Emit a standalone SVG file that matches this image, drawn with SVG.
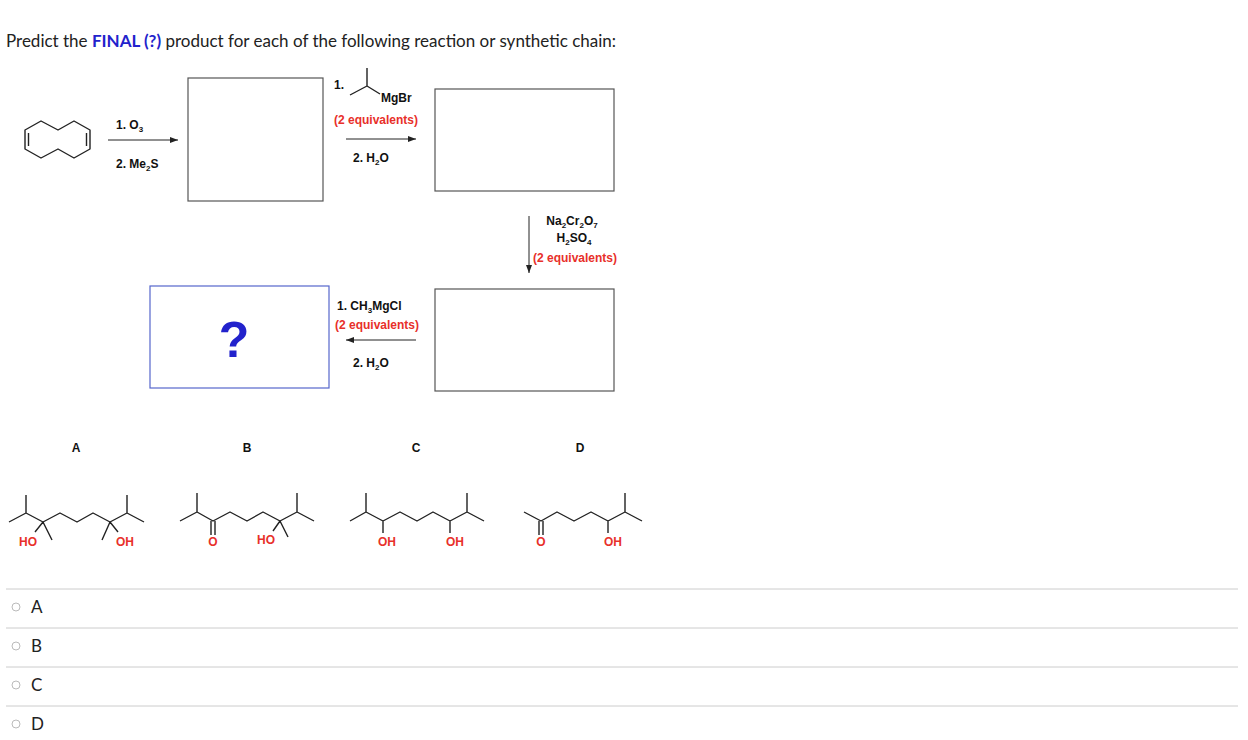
<svg xmlns="http://www.w3.org/2000/svg" width="1248" height="740" viewBox="0 0 1248 740">
<defs><marker id="ah" markerWidth="8" markerHeight="6" refX="8" refY="3" orient="auto" markerUnits="userSpaceOnUse"><path d="M0,0 L8,3 L0,6 z" fill="#222"/></marker></defs>
<style>
.t{font-family:"Liberation Sans",Arial,sans-serif;font-size:12px;font-weight:bold;fill:#111}
.r{fill:#e8302a}
.b{fill:none;stroke:#555;stroke-width:1.2}
.m{fill:none;stroke:#222;stroke-width:1.4;stroke-linejoin:round}
.a{stroke:#222;stroke-width:1;marker-end:url(#ah)}
.h{stroke:#ccc;stroke-width:1}
.o{font-family:Lato,"Liberation Sans",sans-serif;font-size:17px;fill:#222}
</style>
<rect width="1248" height="740" fill="#fff"/>
<text x="6" y="47" class="o">Predict the <tspan fill="#2222cc" font-weight="bold">FINAL (?)</tspan> product for each of the following reaction or synthetic chain:</text>
<g id="start"><path class="m" d="M25,130 L41,121 L58,130 L74,121 L90,130 L90,149 L74,158 L58,149 L41,158 L25,149 Z M28.5,133 L28.5,146 M86.5,133 L86.5,146"/></g>
<g id="box1"><rect class="b" x="188" y="78" width="135" height="123"/></g>
<g id="box2"><rect class="b" x="435" y="89" width="179" height="102"/></g>
<g id="box3"><rect class="b" x="435" y="289" width="179" height="102"/></g>
<g id="box4"><rect x="150" y="286" width="179" height="102" fill="none" stroke="#5566cc" stroke-width="1.2"/><text x="234" y="357" font-family="Liberation Sans,Arial,sans-serif" font-size="50" font-weight="bold" fill="#2222cc" text-anchor="middle">?</text></g>
<g id="connectors">
<line class="a" x1="108" y1="140" x2="178" y2="140"/>
<line class="a" x1="346" y1="139" x2="416" y2="139"/>
<line class="a" x1="529" y1="216" x2="529" y2="273"/>
<line class="a" x1="416" y1="340" x2="346" y2="340"/>
</g>
<g id="labels">
<text class="t" x="116" y="129">1. O<tspan font-size="8" dy="3">3</tspan></text>
<text class="t" x="116" y="168">2. Me<tspan font-size="8" dy="3">2</tspan><tspan dy="-3">S</tspan></text>
<text class="t" x="334" y="89">1.</text>
<path class="m" d="M350,95 L367,86 L367,68 M367,86 L380,94"/>
<text class="t" x="381" y="102">MgBr</text>
<text class="t r" x="334" y="124">(2 equivalents)</text>
<text class="t" x="353" y="162">2. H<tspan font-size="8" dy="3">2</tspan><tspan dy="-3">O</tspan></text>
<text class="t" x="572" y="225" text-anchor="middle">Na<tspan font-size="8" dy="3">2</tspan><tspan dy="-3">Cr</tspan><tspan font-size="8" dy="3">2</tspan><tspan dy="-3">O</tspan><tspan font-size="8" dy="3">7</tspan></text>
<text class="t" x="574" y="242" text-anchor="middle">H<tspan font-size="8" dy="3">2</tspan><tspan dy="-3">SO</tspan><tspan font-size="8" dy="3">4</tspan></text>
<text class="t r" x="533" y="262">(2 equivalents)</text>
<text class="t" x="337" y="310">1. CH<tspan font-size="8" dy="3">3</tspan><tspan dy="-3">MgCl</tspan></text>
<text class="t r" x="335" y="329">(2 equivalents)</text>
<text class="t" x="353" y="367">2. H<tspan font-size="8" dy="3">2</tspan><tspan dy="-3">O</tspan></text>
</g>
<g id="choices">
<text class="t" x="76" y="452" text-anchor="middle">A</text>
<text class="t" x="247" y="452" text-anchor="middle">B</text>
<text class="t" x="416" y="452" text-anchor="middle">C</text>
<text class="t" x="580" y="452" text-anchor="middle">D</text>
<path class="m" d="M9,522 L26,513 L43,522 L60,513 L77,522 L93,513 L110,522 L127,513 L144,522 M26,513 L26,495 M127,513 L127,495 M43,522 L35,532 M43,522 L52,540 M110,522 L102,540 M110,522 L118,532"/>
<text class="t r" x="28" y="546" text-anchor="middle">HO</text>
<text class="t r" x="125" y="546" text-anchor="middle">OH</text>
<path class="m" d="M180,521 L197,512 L213,521 L230,512 L247,521 L263,512 L280,521 L297,512 L314,521 M197,512 L197,493 M297,512 L297,493 M211,521 L211,535 M215,521 L215,535 M280,521 L273,531 M280,521 L288,537"/>
<text class="t r" x="213" y="546" text-anchor="middle">O</text>
<text class="t r" x="266" y="544" text-anchor="middle">HO</text>
<path class="m" d="M350,521 L366,512 L383,521 L400,512 L417,521 L433,512 L450,521 L467,512 L484,521 M366,512 L366,493 M467,512 L467,493 M383,521 L383,533 M450,521 L450,533"/>
<text class="t r" x="387" y="546" text-anchor="middle">OH</text>
<text class="t r" x="455" y="546" text-anchor="middle">OH</text>
<path class="m" d="M524,512 L541,521 L557,512 L574,521 L591,512 L608,521 L625,512 L642,521 M625,512 L625,493 M539,521 L539,535 M543,521 L543,535 M608,521 L608,533"/>
<text class="t r" x="541" y="546" text-anchor="middle">O</text>
<text class="t r" x="613" y="546" text-anchor="middle">OH</text>
</g>
<g id="options">
<line class="h" x1="6" y1="589" x2="1238" y2="589"/>
<line class="h" x1="6" y1="628" x2="1238" y2="628"/>
<line class="h" x1="6" y1="667" x2="1238" y2="667"/>
<line class="h" x1="6" y1="706" x2="1238" y2="706"/>
<g fill="none" stroke="#bbb"><circle cx="16" cy="607" r="4"/><circle cx="16" cy="646" r="4"/><circle cx="16" cy="685" r="4"/><circle cx="16" cy="724" r="4"/></g>
<text class="o" x="31" y="613">A</text>
<text class="o" x="31" y="652">B</text>
<text class="o" x="31" y="691">C</text>
<text class="o" x="31" y="730">D</text>
</g>
</svg>
